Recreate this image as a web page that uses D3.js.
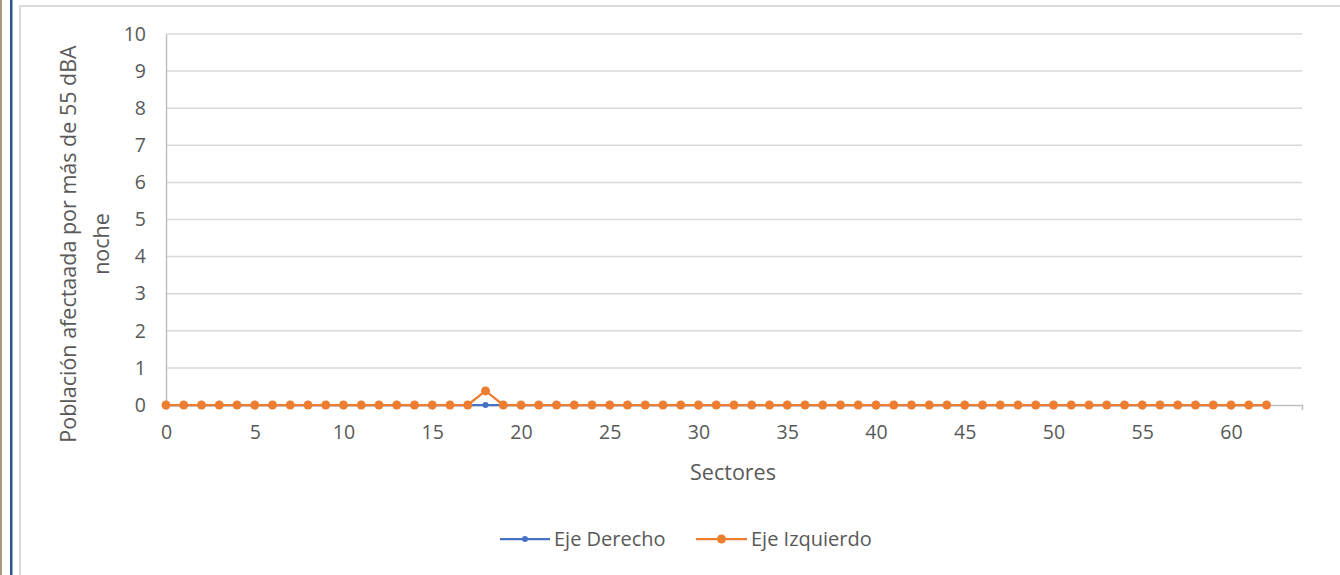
<!DOCTYPE html>
<html>
<head>
<meta charset="utf-8">
<script src="https://cdn.jsdelivr.net/npm/d3@7/dist/d3.min.js"></script>
<style>
  html, body { margin: 0; padding: 0; background: #ffffff; }
  svg { display: block; }
  text { font-family: "Open Sans", "Noto Sans", sans-serif; fill: #595959; }
</style>
</head>
<body>
<svg id="chart" width="1340" height="575"></svg>
<script>
// Sector numbers on the horizontal axis
const sectores = [0,1,2,3,4,5,6,7,8,9,10,11,12,13,14,15,16,17,18,19,20,
  21,22,23,24,25,26,27,28,29,30,31,32,33,34,35,36,37,38,39,40,41,42,43,44,
  45,46,47,48,49,50,51,52,53,54,55,56,57,58,59,60,61,62];

// Population affected (> 55 dBA, night), right-hand side
const ejeDerecho = [0,0,0,0,0,0,0,0,0,0,0,0,0,0,0,0,0,0,0,0,0,
  0,0,0,0,0,0,0,0,0,0,0,0,0,0,0,0,0,0,0,0,0,0,0,0,
  0,0,0,0,0,0,0,0,0,0,0,0,0,0,0,0,0,0];

// Population affected (> 55 dBA, night), left-hand side
const ejeIzquierdo = [0,0,0,0,0,0,0,0,0,0,0,0,0,0,0,0,0,0,0.38,0,0,
  0,0,0,0,0,0,0,0,0,0,0,0,0,0,0,0,0,0,0,0,0,0,0,0,
  0,0,0,0,0,0,0,0,0,0,0,0,0,0,0,0,0,0];

const xTicks = [0,5,10,15,20,25,30,35,40,45,50,55,60];
const yTicks = [0,1,2,3,4,5,6,7,8,9,10];
const xDomain = [0, 64];
const yDomain = [0, 10];

const series = [
  { name: "Eje Derecho", values: ejeDerecho, color: "#4472C4", r: 3 },
  { name: "Eje Izquierdo", values: ejeIzquierdo, color: "#ED7D31", r: 4.5 }
];

const svg = d3.select("#chart");

// Page frame: edge strip, blue rule, and the chart-area border
svg.append("rect").attr("x", 0).attr("y", 0).attr("width", 2).attr("height", 575).attr("fill", "#a69a80");
svg.append("rect").attr("x", 10).attr("y", 0).attr("width", 2.5).attr("height", 575).attr("fill", "#2c5592");
svg.append("path")
  .attr("d", "M20,575 V6 H1340")
  .attr("fill", "none").attr("stroke", "#d9d9d9").attr("stroke-width", 2);

const plot = { left: 166, right: 1302, top: 34, bottom: 405 };

const x = d3.scaleLinear().domain(xDomain).range([plot.left, plot.right]);
const y = d3.scaleLinear().domain(yDomain).range([plot.bottom, plot.top]);

// Horizontal gridlines
svg.append("g")
  .selectAll("line")
  .data(yTicks.filter(d => d !== 0))
  .join("line")
  .attr("x1", plot.left).attr("x2", plot.right)
  .attr("y1", d => y(d)).attr("y2", d => y(d))
  .attr("stroke", "#d9d9d9").attr("stroke-width", 1.5);

// Y axis
const yAxis = svg.append("g")
  .attr("transform", `translate(${plot.left},0)`)
  .call(d3.axisLeft(y).tickValues(yTicks).tickSize(0).tickPadding(20).tickFormat(d3.format("d")));
yAxis.select(".domain").attr("stroke", "#bfbfbf").attr("stroke-width", 1.5);
yAxis.selectAll("text").attr("font-size", 19.5).attr("fill", "#595959")
  .style("font-family", "'Open Sans', sans-serif");

// X axis
const xAxis = svg.append("g")
  .attr("transform", `translate(0,${plot.bottom})`)
  .call(d3.axisBottom(x).tickValues(xTicks).tickSize(5).tickSizeOuter(5).tickPadding(15).tickFormat(d3.format("d")));
xAxis.select(".domain").attr("stroke", "#bfbfbf").attr("stroke-width", 1.5);
xAxis.selectAll(".tick line").attr("stroke", "#bfbfbf").attr("stroke-width", 1.5);
xAxis.selectAll("text").attr("font-size", 19.5).attr("fill", "#595959")
  .style("font-family", "'Open Sans', sans-serif");

// Axis titles
const yTitle = svg.append("text")
  .attr("transform", `translate(76,244) rotate(-90)`)
  .attr("text-anchor", "middle")
  .attr("font-size", 21.5);
yTitle.append("tspan").attr("x", 0).attr("dy", 0).text("Población afectaada por más de 55 dBA");
yTitle.append("tspan").attr("x", 0).attr("dy", 33).text("noche");

svg.append("text")
  .attr("x", 733).attr("y", 480)
  .attr("text-anchor", "middle").attr("font-size", 21.5)
  .text("Sectores");

// Series lines and markers
const line = d3.line()
  .x((d, i) => x(sectores[i]))
  .y(d => y(d));

series.forEach(s => {
  const g = svg.append("g");
  g.append("path")
    .datum(s.values)
    .attr("d", line)
    .attr("fill", "none")
    .attr("stroke", s.color)
    .attr("stroke-width", 2.25)
    .attr("stroke-linejoin", "round");
  g.selectAll("circle")
    .data(s.values)
    .join("circle")
    .attr("cx", (d, i) => x(sectores[i]))
    .attr("cy", d => y(d))
    .attr("r", s.r)
    .attr("fill", s.color);
});

// Legend
const legendItems = [
  { s: series[0], x0: 500, x1: 550, tx: 554 },
  { s: series[1], x0: 696, x1: 747, tx: 751 }
];
const lg = svg.append("g");
legendItems.forEach(it => {
  lg.append("line")
    .attr("x1", it.x0).attr("x2", it.x1).attr("y1", 539).attr("y2", 539)
    .attr("stroke", it.s.color).attr("stroke-width", 2.25);
  lg.append("circle")
    .attr("cx", (it.x0 + it.x1) / 2).attr("cy", 539).attr("r", it.s.r)
    .attr("fill", it.s.color);
  lg.append("text")
    .attr("x", it.tx).attr("y", 539).attr("dy", "0.35em")
    .attr("font-size", 20)
    .text(it.s.name);
});
</script>
</body>
</html>
